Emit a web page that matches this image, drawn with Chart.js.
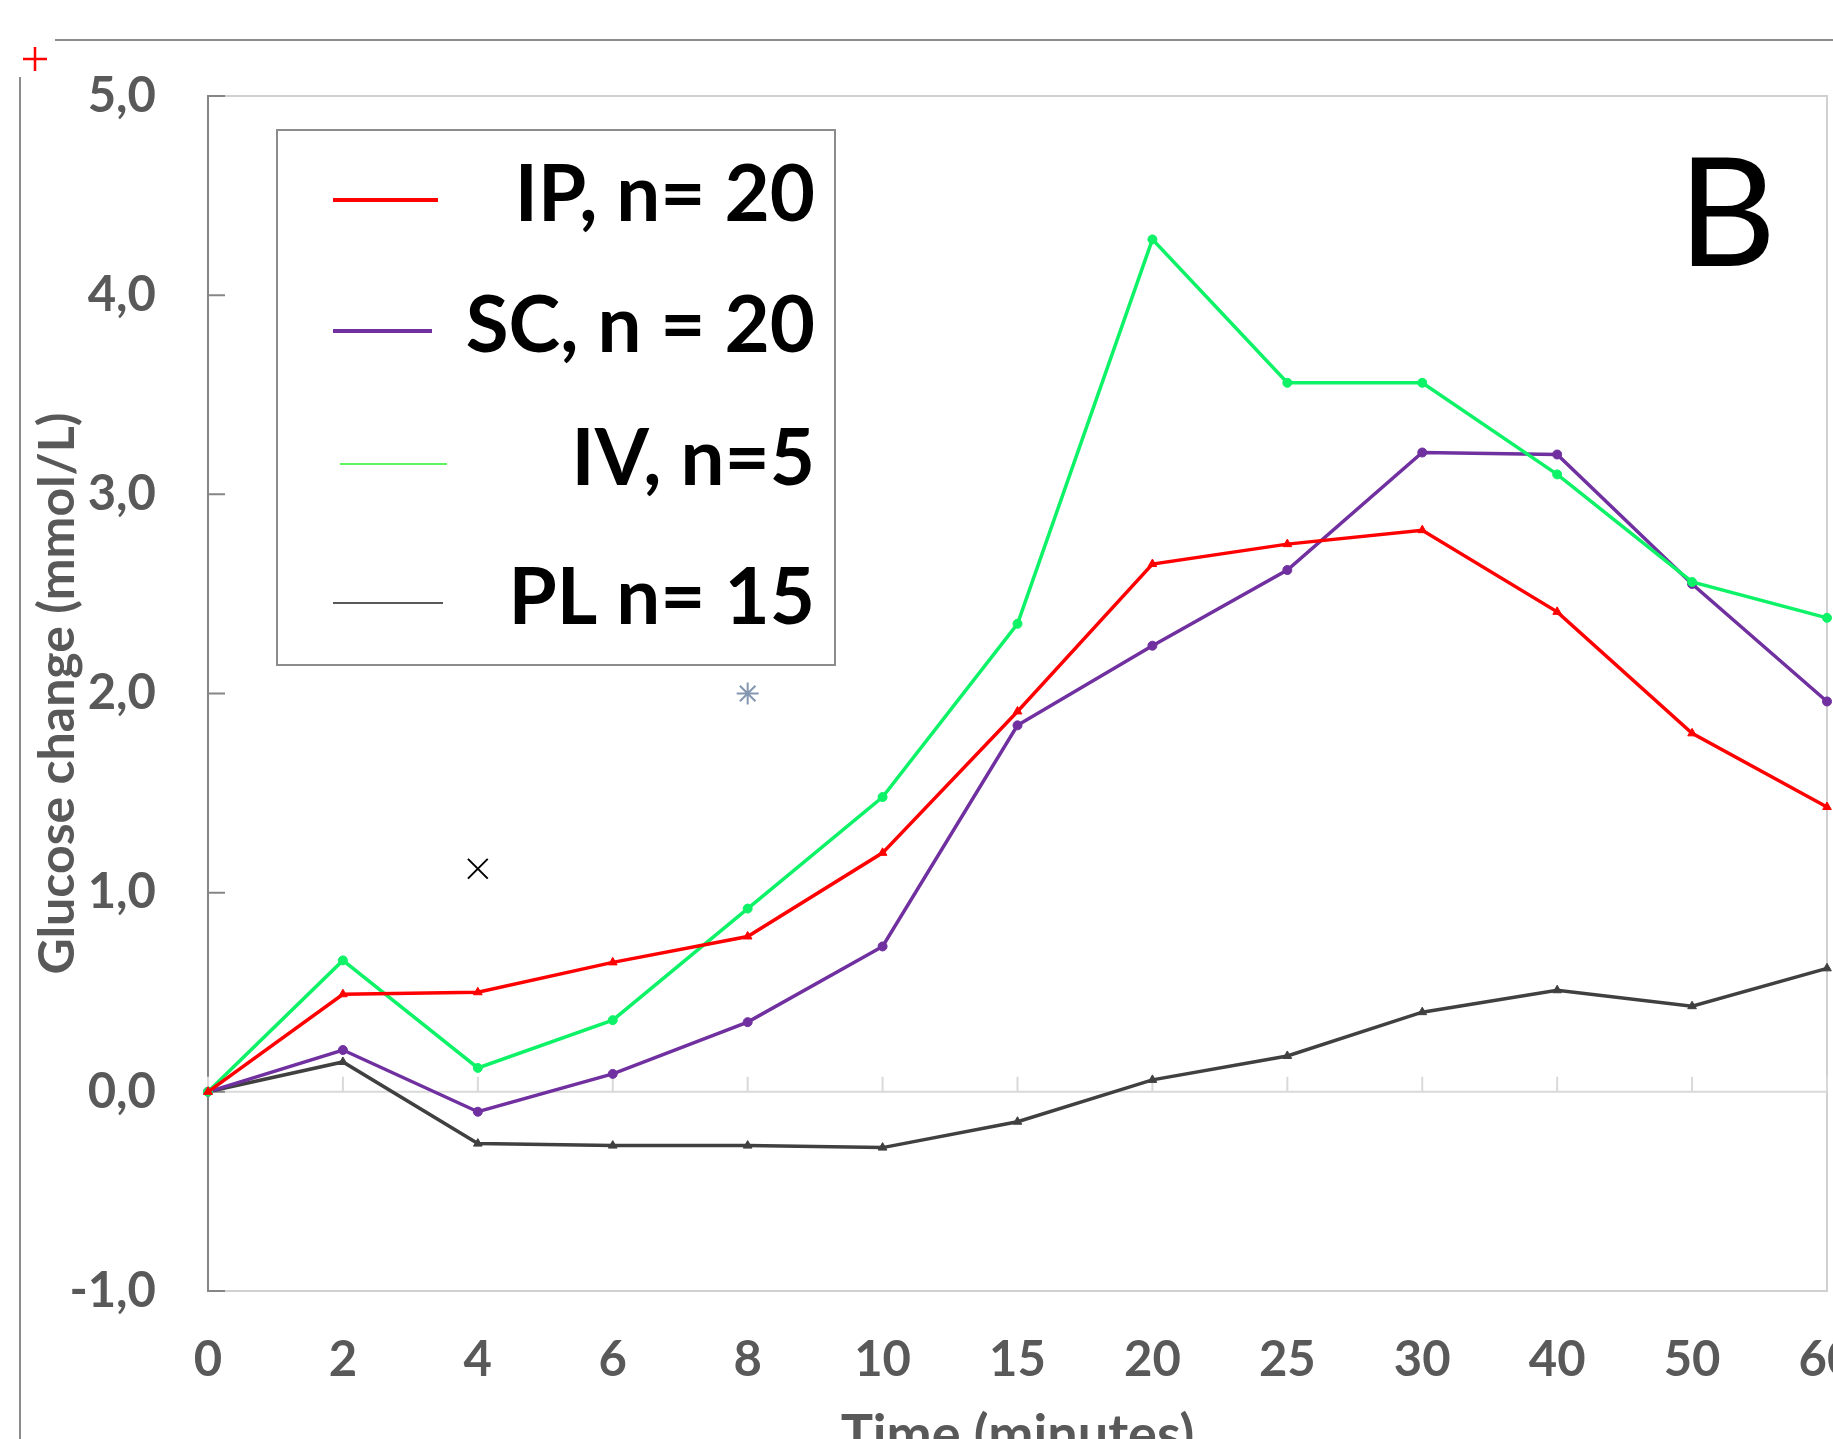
<!DOCTYPE html>
<html>
<head>
<meta charset="utf-8">
<script src="https://cdn.jsdelivr.net/npm/chart.js@4.4.0/dist/chart.umd.min.js"></script>
<style>
  html, body { margin: 0; padding: 0; background: #fff; overflow: hidden; }
</style>
</head>
<body>
<canvas id="chart" width="1833" height="1439"></canvas>
<script>
// time points (minutes) - evenly spaced categories like the Excel original
const times = ['0', '2', '4', '6', '8', '10', '15', '20', '25', '30', '40', '50', '60'];

// mean glucose change (mmol/L)
const ipValues = [0, 0.49, 0.50, 0.65, 0.78, 1.20, 1.91, 2.65, 2.75, 2.82, 2.41, 1.80, 1.43];
const scValues = [0, 0.21, -0.10, 0.09, 0.35, 0.73, 1.84, 2.24, 2.62, 3.21, 3.20, 2.55, 1.96];
const ivValues = [0, 0.66, 0.12, 0.36, 0.92, 1.48, 2.35, 4.28, 3.56, 3.56, 3.10, 2.56, 2.38];
const plValues = [0, 0.15, -0.26, -0.27, -0.27, -0.28, -0.15, 0.06, 0.18, 0.40, 0.51, 0.43, 0.62];

// significance markers
const crossMarks = [{ x: '4', y: 1.12 }];
const starMarks = [{ x: '8', y: 2.0 }];

const seriesLabels = ['IP, n= 20', 'SC, n = 20', 'IV, n=5', 'PL n= 15'];
const yMin = -1, yMax = 5, yStep = 1;

const FONT = "Lato, 'Open Sans', sans-serif";
const AXIS_GREY = '#595959';

// axis furniture, Excel style: zero line with upward ticks, inward y ticks, light plot frame
const framePlugin = {
  id: 'frame',
  beforeDatasetsDraw(chart) {
    const { ctx, chartArea: a, scales: { x, y } } = chart;
    ctx.save();

    // outer figure frame
    ctx.strokeStyle = '#8c8c8c';
    ctx.lineWidth = 2;
    ctx.beginPath();
    ctx.moveTo(55, 40); ctx.lineTo(chart.width, 40);
    ctx.moveTo(20, 77); ctx.lineTo(20, chart.height);
    ctx.stroke();
    ctx.strokeStyle = '#ff0000';
    ctx.lineWidth = 2.5;
    ctx.beginPath();
    ctx.moveTo(23, 59); ctx.lineTo(47, 59);
    ctx.moveTo(35, 47); ctx.lineTo(35, 71);
    ctx.stroke();

    // plot frame
    ctx.strokeStyle = '#d0d0d0';
    ctx.lineWidth = 2;
    ctx.beginPath();
    ctx.moveTo(a.left, a.top); ctx.lineTo(a.right, a.top);
    ctx.lineTo(a.right, a.bottom); ctx.lineTo(a.left, a.bottom);
    ctx.stroke();

    // zero line with category ticks
    const y0 = y.getPixelForValue(0);
    ctx.strokeStyle = '#d9d9d9';
    ctx.lineWidth = 2;
    ctx.beginPath();
    ctx.moveTo(a.left, y0); ctx.lineTo(a.right, y0);
    x.ticks.forEach((t, i) => {
      const px = x.getPixelForTick(i);
      ctx.moveTo(px, y0); ctx.lineTo(px, y0 - 15);
    });
    ctx.stroke();

    // inward y ticks
    ctx.strokeStyle = '#868686';
    ctx.beginPath();
    y.ticks.forEach(t => {
      const py = y.getPixelForValue(t.value);
      ctx.moveTo(a.left, py); ctx.lineTo(a.left + 17, py);
    });
    ctx.stroke();
    ctx.restore();
  }
};

// boxed legend with right-aligned labels and the panel letter
const legendPlugin = {
  id: 'boxLegend',
  afterDraw(chart) {
    const { ctx } = chart;
    ctx.save();
    ctx.fillStyle = '#fff';
    ctx.fillRect(277, 130, 558, 535);
    ctx.strokeStyle = '#8c8c8c';
    ctx.lineWidth = 2;
    ctx.strokeRect(277, 130, 558, 535);

    const rows = [
      { y: 200, x0: 333, x1: 438, color: '#ff0000', w: 4 },
      { y: 331, x0: 333, x1: 432, color: '#7030a0', w: 4 },
      { y: 464, x0: 340, x1: 447, color: '#5cf55c', w: 2 },
      { y: 603, x0: 333, x1: 443, color: '#595959', w: 2 }
    ];
    ctx.font = 'bold 78px ' + FONT;
    ctx.textAlign = 'right';
    ctx.textBaseline = 'middle';
    rows.forEach((r, i) => {
      ctx.strokeStyle = r.color;
      ctx.lineWidth = r.w;
      ctx.beginPath();
      ctx.moveTo(r.x0, r.y); ctx.lineTo(r.x1, r.y);
      ctx.stroke();
      ctx.fillStyle = '#000';
      ctx.fillText(seriesLabels[i], 815, r.y - 4);
    });

    ctx.font = '152px ' + FONT;
    ctx.textAlign = 'left';
    ctx.textBaseline = 'alphabetic';
    ctx.fillText('B', 1678, 266);
    ctx.restore();
  }
};

const lineSet = (label, data, color, style, radius) => ({
  label,
  data,
  borderColor: color,
  backgroundColor: color,
  borderWidth: 3.5,
  pointStyle: style,
  pointRadius: radius,
  pointBorderWidth: 1,
  tension: 0,
  fill: false
});

new Chart(document.getElementById('chart'), {
  type: 'line',
  data: {
    labels: times,
    datasets: [
      lineSet(seriesLabels[0], ipValues, '#ff0000', 'triangle', 5),
      lineSet(seriesLabels[2], ivValues, '#0df266', 'circle', 4.5),
      lineSet(seriesLabels[1], scValues, '#7030a0', 'circle', 4.5),
      lineSet(seriesLabels[3], plValues, '#404040', 'triangle', 5),
      {
        label: 'cross', data: crossMarks, showLine: false,
        pointStyle: 'crossRot', pointRadius: 14, borderColor: '#000', borderWidth: 2
      },
      {
        label: 'star', data: starMarks, showLine: false,
        pointStyle: 'star', pointRadius: 11, borderColor: '#8497b0', borderWidth: 2
      }
    ]
  },
  options: {
    responsive: false,
    animation: false,
    layout: { autoPadding: false, padding: { top: 96, right: 6, bottom: 0, left: 0 } },
    plugins: {
      legend: { display: false },
      tooltip: { enabled: false }
    },
    scales: {
      x: {
        type: 'category',
        offset: false,
        grid: { display: false, drawTicks: false },
        border: { display: false },
        ticks: {
          color: AXIS_GREY,
          font: { family: FONT, size: 49, weight: 'bold' },
          padding: 40,
          maxRotation: 0,
          autoSkip: false
        },
        title: {
          display: true,
          text: 'Time (minutes)',
          color: AXIS_GREY,
          font: { family: FONT, size: 54, weight: 'bold' },
          padding: { top: 0, bottom: -29 }
        },
        afterFit(scale) {
          scale.height = 148;
          scale.paddingLeft = 0;
          scale.paddingRight = 0;
        }
      },
      y: {
        min: yMin,
        max: yMax,
        grid: { display: false, drawTicks: false },
        border: { display: true, color: '#868686', width: 2 },
        ticks: {
          stepSize: yStep,
          color: AXIS_GREY,
          font: { family: FONT, size: 49, weight: 'bold' },
          padding: 52,
          callback: v => v.toFixed(1).replace('.', ',')
        },
        title: {
          display: true,
          text: 'Glucose change (mmol/L)',
          color: AXIS_GREY,
          font: { family: FONT, size: 50, weight: 'bold' },
          padding: { top: 28, bottom: 0 }
        },
        afterFit(scale) {
          scale.width = 208;
        }
      }
    }
  },
  plugins: [framePlugin, legendPlugin]
});
</script>
</body>
</html>
